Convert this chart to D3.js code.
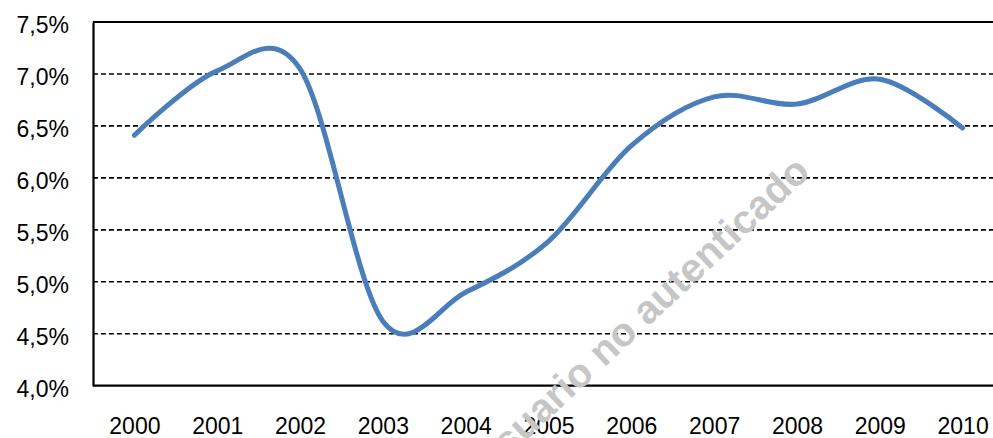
<!DOCTYPE html>
<html>
<head>
<meta charset="utf-8">
<script src="https://cdn.jsdelivr.net/npm/d3@7"></script>
<style>
  body { margin: 0; background: #fff; }
  svg { display: block; font-family: "Liberation Sans", Arial, sans-serif; }
</style>
</head>
<body>
<div id="container"></div>
<script>
const WIDTH = 993;
const HEIGHT = 438;
const LEFT = 93;
const TOP = 22;
const BOTTOM = 385.7;
const RIGHT = 1004;

const years = ["2000", "2001", "2002", "2003", "2004", "2005", "2006", "2007", "2008", "2009", "2010"];
const rates = [6.41, 7.03, 7.05, 4.62, 4.9, 5.39, 6.31, 6.78, 6.71, 6.95, 6.48];
const yTicks = [4.0, 4.5, 5.0, 5.5, 6.0, 6.5, 7.0, 7.5];

const svg = d3
  .select("div#container")
  .append("svg")
  .attr("width", WIDTH)
  .attr("height", HEIGHT);

const xScale = d3.scalePoint().domain(years).range([LEFT, RIGHT]).padding(0.5);
const yScale = d3.scaleLinear().domain([4.0, 7.5]).range([BOTTOM, TOP]);

const fmt = (d) => d.toFixed(1).replace(".", ",") + "%";

// gridlines
svg
  .append("g")
  .selectAll("line")
  .data(yTicks.filter((d) => d > 4.0 && d < 7.5))
  .enter()
  .append("line")
  .attr("x1", LEFT)
  .attr("x2", WIDTH)
  .attr("y1", (d) => yScale(d))
  .attr("y2", (d) => yScale(d))
  .attr("stroke", "#000")
  .attr("stroke-width", 1.6)
  .attr("stroke-dasharray", "5,3");

// top border
svg
  .append("line")
  .attr("x1", LEFT)
  .attr("x2", WIDTH)
  .attr("y1", yScale(7.5))
  .attr("y2", yScale(7.5))
  .attr("stroke", "#000")
  .attr("stroke-width", 1.8);

// y axis
const yAxis = d3.axisLeft(yScale).tickValues(yTicks).tickFormat(fmt).tickSize(0).tickPadding(24);
const yG = svg.append("g").attr("transform", `translate(${LEFT}, 0)`).call(yAxis);
yG.select(".domain").attr("stroke", "#000").attr("stroke-width", 2.2);
yG.selectAll(".tick text")
  .attr("font-size", 23)
  .attr("fill", "#000")
  .attr("dy", "0.45em")
  .attr("font-family", "Liberation Sans, Arial, sans-serif");

// x axis
const xAxis = d3.axisBottom(xScale).tickSize(0).tickPadding(32);
const xG = svg.append("g").attr("transform", `translate(0, ${BOTTOM})`).call(xAxis);
xG.select(".domain").attr("d", `M${LEFT},0H${WIDTH}`).attr("stroke", "#000").attr("stroke-width", 2.2);
xG.selectAll(".tick text")
  .attr("font-size", 23)
  .attr("fill", "#000")
  .attr("font-family", "Liberation Sans, Arial, sans-serif");

// line
const line = d3
  .line()
  .x((d, i) => xScale(years[i]))
  .y((d) => yScale(d))
  .curve(d3.curveCardinal.tension(0));

svg
  .append("path")
  .datum(rates)
  .attr("d", line)
  .attr("fill", "none")
  .attr("stroke", "#4a7ebb")
  .attr("stroke-width", 5)
  .attr("stroke-linecap", "round");

// watermark
svg
  .append("text")
  .attr("transform", "translate(812, 174) rotate(-43)")
  .attr("text-anchor", "end")
  .attr("font-size", 40)
  .attr("font-weight", "bold")
  .attr("fill", "#c6c6c6")
  .text("Usuario no autenticado");
</script>
</body>
</html>
